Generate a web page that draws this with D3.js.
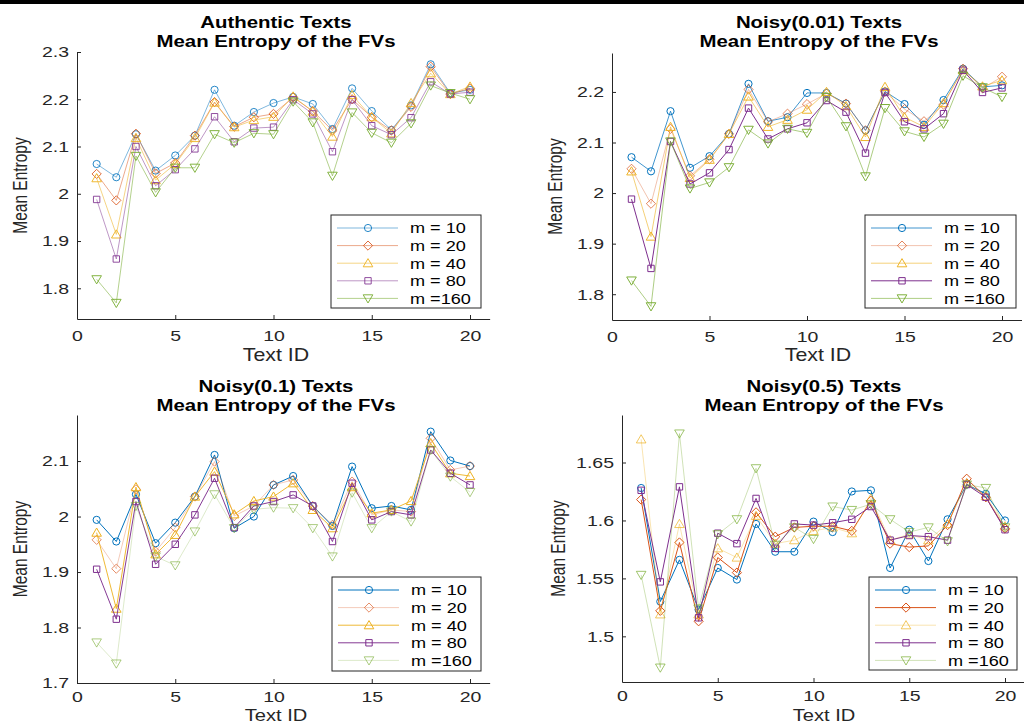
<!DOCTYPE html>
<html>
<head>
<meta charset="utf-8">
<script src="https://cdn.jsdelivr.net/npm/d3@7"></script>
<style>
body { margin: 0; background: #fff; }
svg { display: block; font-family: "Liberation Sans", Arial, Helvetica, sans-serif; }
</style>
</head>
<body>
<svg id="fig"></svg>
<script>
// Total dimensions
var w = 1024,
    h = 724;

// ---------- data ----------
var textIds = [1, 2, 3, 4, 5, 6, 7, 8, 9, 10, 11, 12, 13, 14, 15, 16, 17, 18, 19, 20];
var mLabels = ["m = 10", "m = 20", "m = 40", "m = 80", "m =160"];
var xTicks = [0, 5, 10, 15, 20];

// Authentic texts, one row per m
var authentic = [
    [2.063, 2.035, 2.126, 2.049, 2.081, 2.123, 2.220, 2.144, 2.173, 2.192, 2.205, 2.190, 2.137, 2.223, 2.175, 2.135, 2.187, 2.274, 2.213, 2.220],
    [2.042, 1.986, 2.127, 2.043, 2.065, 2.123, 2.194, 2.142, 2.162, 2.169, 2.204, 2.175, 2.134, 2.200, 2.162, 2.134, 2.184, 2.269, 2.211, 2.223],
    [2.033, 1.914, 2.118, 2.029, 2.063, 2.118, 2.193, 2.141, 2.156, 2.163, 2.206, 2.174, 2.121, 2.209, 2.162, 2.128, 2.192, 2.255, 2.211, 2.227],
    [1.988, 1.862, 2.100, 2.017, 2.051, 2.095, 2.163, 2.110, 2.139, 2.141, 2.199, 2.169, 2.089, 2.199, 2.144, 2.125, 2.161, 2.237, 2.211, 2.215],
    [1.819, 1.769, 2.080, 2.003, 2.055, 2.055, 2.126, 2.108, 2.128, 2.126, 2.195, 2.151, 2.038, 2.172, 2.129, 2.108, 2.149, 2.229, 2.213, 2.200]
];
// Noisy(0.01)
var noisy001 = [
    [2.071, 2.043, 2.162, 2.050, 2.073, 2.117, 2.216, 2.142, 2.150, 2.198, 2.198, 2.177, 2.124, 2.201, 2.176, 2.135, 2.184, 2.246, 2.210, 2.213],
    [2.048, 1.979, 2.127, 2.034, 2.067, 2.117, 2.205, 2.141, 2.157, 2.176, 2.197, 2.177, 2.124, 2.200, 2.166, 2.142, 2.175, 2.246, 2.207, 2.230],
    [2.043, 1.914, 2.131, 2.030, 2.066, 2.117, 2.191, 2.131, 2.145, 2.165, 2.200, 2.172, 2.111, 2.210, 2.150, 2.131, 2.178, 2.243, 2.211, 2.223],
    [1.988, 1.851, 2.102, 2.018, 2.040, 2.086, 2.168, 2.107, 2.127, 2.139, 2.183, 2.160, 2.079, 2.199, 2.141, 2.127, 2.157, 2.243, 2.199, 2.208],
    [1.827, 1.776, 2.102, 2.009, 2.021, 2.051, 2.125, 2.098, 2.127, 2.119, 2.190, 2.132, 2.033, 2.168, 2.122, 2.111, 2.137, 2.232, 2.209, 2.190]
];
// Noisy(0.1)
var noisy01 = [
    [1.994, 1.955, 2.040, 1.952, 1.989, 2.036, 2.111, 1.979, 2.000, 2.057, 2.073, 2.019, 1.983, 2.090, 2.015, 2.019, 2.012, 2.153, 2.101, 2.091],
    [1.958, 1.906, 2.049, 1.937, 1.980, 2.036, 2.099, 2.001, 2.019, 2.057, 2.066, 2.019, 1.985, 2.063, 2.003, 2.012, 2.009, 2.141, 2.084, 2.091],
    [1.971, 1.834, 2.053, 1.932, 1.967, 2.036, 2.081, 2.004, 2.028, 2.036, 2.060, 2.012, 1.979, 2.053, 2.006, 2.012, 2.028, 2.132, 2.078, 2.073],
    [1.905, 1.815, 2.027, 1.914, 1.950, 2.003, 2.069, 1.980, 2.019, 2.027, 2.039, 2.019, 1.955, 2.060, 1.994, 2.009, 2.003, 2.120, 2.078, 2.057],
    [1.773, 1.735, 2.019, 1.928, 1.912, 1.973, 2.040, 1.979, 2.013, 2.016, 2.015, 1.979, 1.928, 2.043, 1.979, 2.009, 1.991, 2.120, 2.072, 2.044]
];
// Noisy(0.5)
var noisy05 = [
    [1.628, 1.530, 1.566, 1.523, 1.559, 1.549, 1.597, 1.573, 1.573, 1.599, 1.590, 1.625, 1.626, 1.559, 1.592, 1.565, 1.601, 1.631, 1.623, 1.600],
    [1.618, 1.522, 1.581, 1.513, 1.568, 1.555, 1.607, 1.586, 1.594, 1.595, 1.595, 1.591, 1.617, 1.580, 1.577, 1.578, 1.596, 1.636, 1.620, 1.593],
    [1.670, 1.519, 1.597, 1.519, 1.576, 1.568, 1.604, 1.580, 1.583, 1.591, 1.594, 1.589, 1.619, 1.583, 1.588, 1.583, 1.597, 1.632, 1.621, 1.595],
    [1.626, 1.547, 1.629, 1.516, 1.589, 1.580, 1.619, 1.576, 1.597, 1.596, 1.598, 1.601, 1.612, 1.583, 1.587, 1.586, 1.583, 1.631, 1.620, 1.592],
    [1.553, 1.473, 1.675, 1.524, 1.588, 1.601, 1.645, 1.579, 1.594, 1.584, 1.612, 1.609, 1.614, 1.601, 1.590, 1.594, 1.582, 1.631, 1.628, 1.594]
];

var yTicksAuth = [1.8, 1.9, 2, 2.1, 2.2, 2.3];
var yTicks001 = [1.8, 1.9, 2, 2.1, 2.2];
var yTicks01 = [1.7, 1.8, 1.9, 2, 2.1];
var yTicks05 = [1.5, 1.55, 1.6, 1.65];

// ---------- styles ----------
var colors = ["#0072BD", "#D95319", "#EDB120", "#7E2F8E", "#77AC30"];
var shapes = ["circle", "diamond", "up", "square", "down"];
var axisColor = "#262626";

// Panel layout (positions only)
var panels = [
    { data: authentic, yTicks: yTicksAuth, title: ["Authentic Texts", "Mean Entropy of the FVs"],
      left: 77, x20: 470, top: 52, bottom: 319, yDomain: [1.735, 2.3], tickPad: 11,
      titleX: 276, titleY: [28, 47], ylabX: 27, xlabX: 276, xlabY: 361, xlabSize: 17.5,
      legend: [331, 215, 150, 93], lineOp: [0.5, 0.5, 0.55, 0.5, 0.55] },
    { data: noisy001, yTicks: yTicks001, title: ["Noisy(0.01) Texts", "Mean Entropy of the FVs"],
      left: 612, x20: 1002, top: 53, bottom: 320, yDomain: [1.749, 2.277], tickPad: 11,
      titleX: 819, titleY: [28, 47], ylabX: 562, xlabX: 818, xlabY: 361, xlabSize: 17.5,
      legend: [865, 215, 151, 93], lineOp: [0.75, 0.35, 0.6, 1, 0.6] },
    { data: noisy01, yTicks: yTicks01, title: ["Noisy(0.1) Texts", "Mean Entropy of the FVs"],
      left: 77, x20: 470, top: 415, bottom: 683, yDomain: [1.7, 2.183], tickPad: 8,
      titleX: 276, titleY: [392, 411], ylabX: 27, xlabX: 276, xlabY: 721, xlabSize: 16.5,
      legend: [332, 577, 149, 94], lineOp: [1, 0.3, 0.9, 0.95, 0.25] },
    { data: noisy05, yTicks: yTicks05, title: ["Noisy(0.5) Texts", "Mean Entropy of the FVs"],
      left: 622, x20: 1005, top: 415, bottom: 682, yDomain: [1.4606, 1.691], tickPad: 8,
      titleX: 824, titleY: [392, 411], ylabX: 565, xlabX: 824, xlabY: 721, xlabSize: 16.5,
      legend: [869, 577, 148, 93], lineOp: [1, 1, 0.35, 1, 0.35] }
];

var svg = d3.select("#fig")
    .attr("width", w)
    .attr("height", h);

svg.append("rect").attr("width", w).attr("height", h).attr("fill", "#fff");
// thin black strip along the top edge of the scan
svg.append("rect").attr("width", w).attr("height", 4).attr("fill", "#000");

function markerPath(shape) {
    if (shape === "circle") return d3.symbol(d3.symbolCircle, Math.PI * 3.6 * 3.6)();
    if (shape === "diamond") return "M0,-4.6L4.6,0L0,4.6L-4.6,0Z";
    if (shape === "up") return "M0,-4.6L4.8,3.6L-4.8,3.6Z";
    if (shape === "square") return "M-3.2,-3.2H3.2V3.2H-3.2Z";
    return "M0,4.6L4.8,-3.6L-4.8,-3.6Z";
}

// widen text horizontally around its anchor point
function stretch(sel, sx) {
    sel.each(function() {
        var t = d3.select(this);
        var tx = +t.attr("x") || 0, ty = +t.attr("y") || 0;
        t.attr("transform", "translate(" + tx + "," + ty + ") scale(" + sx + ",1) translate(" + (-tx) + "," + (-ty) + ")");
    });
}

var fmt = function(d) { return String(+d.toFixed(2)); };

panels.forEach(function(p) {
    var unit = (p.x20 - p.left) / 20;
    var xScale = d3.scaleLinear()
        .domain([0, 21])
        .range([p.left, p.left + 21 * unit]);
    var yScale = d3.scaleLinear()
        .domain(p.yDomain)
        .range([p.bottom, p.top]);

    var g = svg.append("g");

    // Axes
    var xAxis = d3.axisBottom(xScale)
        .tickValues(xTicks)
        .tickSizeInner(-4)
        .tickSizeOuter(0)
        .tickPadding(p.tickPad);
    var yAxis = d3.axisLeft(yScale)
        .tickValues(p.yTicks)
        .tickFormat(fmt)
        .tickSizeInner(-4)
        .tickSizeOuter(0)
        .tickPadding(8);

    var gx = g.append("g")
        .attr("transform", "translate(0," + p.bottom + ")")
        .call(xAxis);
    var gy = g.append("g")
        .attr("transform", "translate(" + p.left + ",0)")
        .call(yAxis);

    [gx, gy].forEach(function(a) {
        a.select(".domain").attr("stroke", axisColor).attr("stroke-width", 1);
        a.selectAll(".tick line").attr("stroke", axisColor);
        a.selectAll(".tick text")
            .attr("fill", axisColor)
            .attr("font-family", "Liberation Sans, Arial, sans-serif")
            .attr("font-size", 15);
    });
    stretch(gx.selectAll(".tick text"), 1.3);
    stretch(gy.selectAll(".tick text"), 1.3);

    // Plot
    p.data.forEach(function(series, i) {
        var line = d3.line()
            .x(function(d, j) { return xScale(textIds[j]); })
            .y(function(d) { return yScale(d); });

        g.append("path")
            .datum(series)
            .attr("fill", "none")
            .attr("stroke", colors[i])
            .attr("stroke-opacity", p.lineOp[i])
            .attr("stroke-width", 1)
            .attr("stroke-linejoin", "round")
            .attr("d", line);

        g.selectAll(".mk" + i)
            .data(series)
            .enter().append("path")
            .attr("class", "mk" + i)
            .attr("transform", function(d, j) {
                return "translate(" + xScale(textIds[j]) + "," + yScale(d) + ")";
            })
            .attr("d", markerPath(shapes[i]))
            .attr("fill", "none")
            .attr("stroke", colors[i])
            .attr("stroke-opacity", Math.min(1, p.lineOp[i] + 0.35))
            .attr("stroke-width", 1);
    });

    // Title
    p.title.forEach(function(t, k) {
        var tt = g.append("text")
            .attr("x", p.titleX)
            .attr("y", p.titleY[k])
            .attr("text-anchor", "middle")
            .attr("font-weight", "bold")
            .attr("font-size", 17)
            .attr("fill", "#000")
            .text(t);
        stretch(tt, 1.2);
    });

    // Axis labels
    var xl = g.append("text")
        .attr("x", p.xlabX)
        .attr("y", p.xlabY)
        .attr("text-anchor", "middle")
        .attr("font-size", p.xlabSize)
        .attr("fill", axisColor)
        .text("Text ID");
    stretch(xl, 1.22);

    g.append("text")
        .attr("transform", "translate(" + p.ylabX + "," + ((p.top + p.bottom) / 2) + ") scale(1.25,1) rotate(-90)")
        .attr("text-anchor", "middle")
        .attr("font-size", 15.5)
        .attr("fill", axisColor)
        .text("Mean Entropy");

    // Legend
    var L = p.legend;
    var lg = g.append("g").attr("transform", "translate(" + L[0] + "," + L[1] + ")");
    lg.append("rect")
        .attr("width", L[2])
        .attr("height", L[3])
        .attr("fill", "#fff")
        .attr("stroke", axisColor)
        .attr("stroke-width", 1);
    mLabels.forEach(function(lab, i) {
        var cy = 13 + i * 17.6;
        lg.append("line")
            .attr("x1", 6).attr("x2", 67)
            .attr("y1", cy).attr("y2", cy)
            .attr("stroke", colors[i])
            .attr("stroke-opacity", p.lineOp[i]);
        lg.append("path")
            .attr("transform", "translate(37," + cy + ")")
            .attr("d", markerPath(shapes[i]))
            .attr("fill", "none")
            .attr("stroke", colors[i])
            .attr("stroke-opacity", Math.min(1, p.lineOp[i] + 0.35));
        var lt = lg.append("text")
            .attr("x", 79)
            .attr("y", cy + 5.5)
            .attr("font-size", 15.5)
            .attr("fill", "#000")
            .text(lab);
        stretch(lt, 1.17);
    });
});
</script>
</body>
</html>
